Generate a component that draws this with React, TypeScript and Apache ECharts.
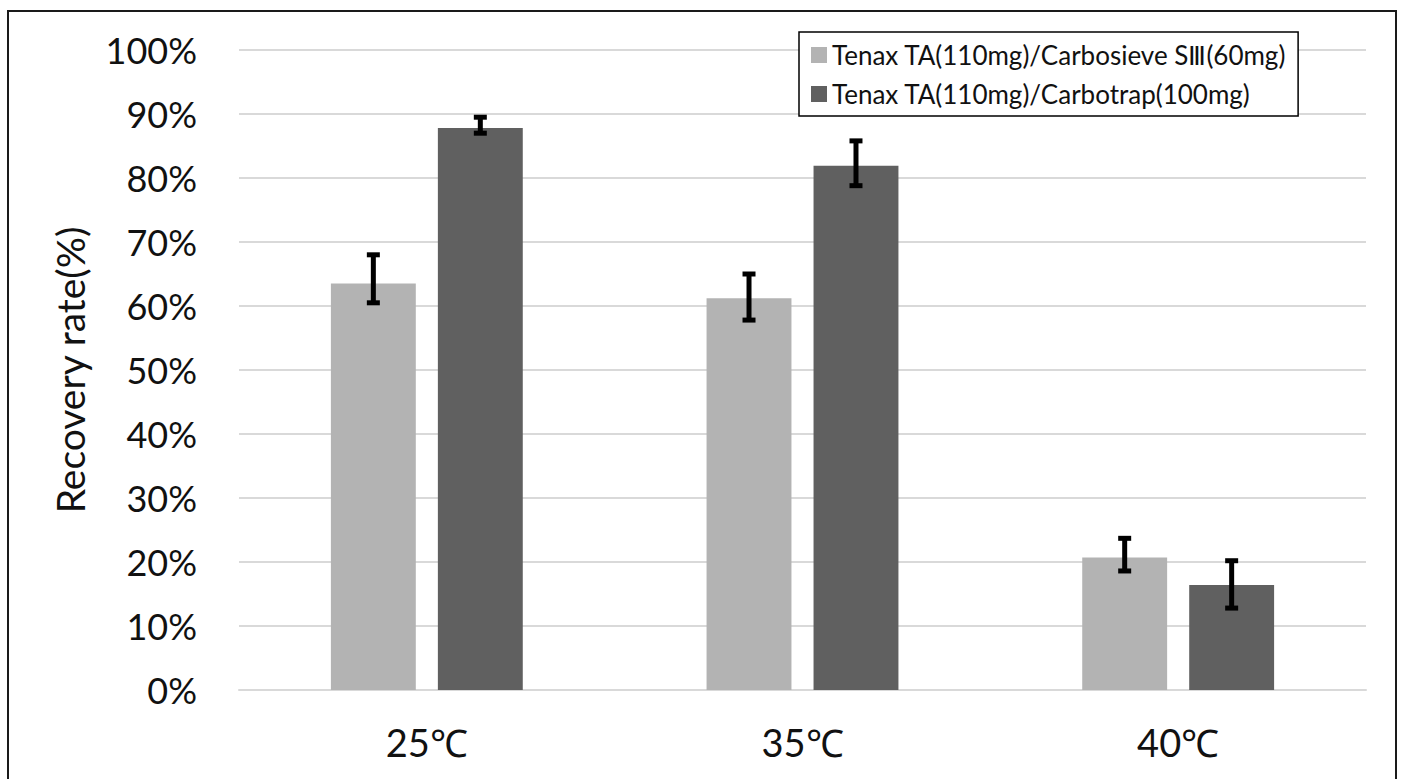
import React, { useEffect, useRef } from "react";
import * as echarts from "echarts";

const categories = ["25℃", "35℃", "40℃"];
const seriesNames = [
  "Tenax TA(110mg)/Carbosieve SⅢ(60mg)",
  "Tenax TA(110mg)/Carbotrap(100mg)",
];
const lightValues = [63.5, 61.2, 20.7];
const lightErrLow = [60.5, 57.8, 18.6];
const lightErrHigh = [68.0, 65.0, 23.7];
const darkValues = [87.8, 81.9, 16.4];
const darkErrLow = [87.0, 78.8, 12.8];
const darkErrHigh = [89.5, 85.8, 20.2];

const FONT = "Lato";
const LIGHT = "#b3b3b3";
const DARK = "#606060";
const BAR_W = 0.226;
const BAR_GAP = 0.26;

function errorSeries(low: number[], high: number[], side: number) {
  return {
    type: "custom",
    z: 10,
    silent: true,
    data: low.map((l, i) => [i, l, high[i]]),
    renderItem: (params: any, api: any) => {
      const idx = api.value(0);
      const lo = api.coord([idx, api.value(1)]);
      const hi = api.coord([idx, api.value(2)]);
      const bw = api.size([1, 0])[0];
      const off = (bw * BAR_W * (1 + BAR_GAP)) / 2;
      const x = lo[0] + side * off;
      const cap = 6.5;
      const style = { stroke: "#000", lineWidth: 5 };
      return {
        type: "group",
        children: [
          { type: "line", shape: { x1: x, y1: hi[1], x2: x, y2: lo[1] }, style },
          { type: "line", shape: { x1: x - cap, y1: hi[1], x2: x + cap, y2: hi[1] }, style },
          { type: "line", shape: { x1: x - cap, y1: lo[1], x2: x + cap, y2: lo[1] }, style },
        ],
      };
    },
  };
}

export default function App() {
  const ref = useRef<HTMLDivElement>(null);
  useEffect(() => {
    if (!ref.current) return;
    const chart = echarts.init(ref.current, null, { renderer: "svg" });
    chart.setOption({
      animation: false,
      backgroundColor: "#fff",
      textStyle: { fontFamily: FONT },
      graphic: [
        {
          type: "rect",
          shape: { x: 8, y: 11, width: 1388, height: 820 },
          style: { fill: "none", stroke: "#1a1a1a", lineWidth: 2 },
          z: 100,
        },
      ],
      legend: {
        orient: "vertical",
        left: 799,
        top: 32,
        data: seriesNames,
        icon: "rect",
        itemWidth: 16,
        itemHeight: 16,
        itemGap: 13,
        padding: [10, 12, 9, 12],
        borderColor: "#000",
        borderWidth: 1.5,
        backgroundColor: "#fff",
        textStyle: { fontFamily: FONT, fontSize: 26, color: "#111", padding: [0, 0, 0, 0] },
      },
      grid: { left: 239, right: 39, top: 50, bottom: 89 },
      xAxis: {
        type: "category",
        data: categories,
        axisLine: { lineStyle: { color: "#d9d9d9", width: 2 } },
        axisTick: { show: false },
        axisLabel: { fontFamily: FONT, fontSize: 38, color: "#111", margin: 33 },
      },
      yAxis: {
        type: "value",
        min: 0,
        max: 100,
        interval: 10,
        name: "Recovery rate(%)",
        nameLocation: "middle",
        nameGap: 150,
        nameTextStyle: { fontFamily: FONT, fontSize: 39, color: "#111" },
        axisLine: { show: false },
        axisTick: { show: false },
        splitLine: { lineStyle: { color: "#d9d9d9", width: 2 } },
        axisLabel: {
          fontFamily: FONT,
          fontSize: 36,
          color: "#111",
          margin: 42,
          formatter: "{value}%",
        },
      },
      series: [
        {
          name: seriesNames[0],
          type: "bar",
          data: lightValues,
          barWidth: BAR_W * 100 + "%",
          barGap: BAR_GAP * 100 + "%",
          itemStyle: { color: LIGHT },
        },
        {
          name: seriesNames[1],
          type: "bar",
          data: darkValues,
          barWidth: BAR_W * 100 + "%",
          barGap: BAR_GAP * 100 + "%",
          itemStyle: { color: DARK },
        },
        errorSeries(lightErrLow, lightErrHigh, -1),
        errorSeries(darkErrLow, darkErrHigh, 1),
      ],
    });
    return () => chart.dispose();
  }, []);
  return (
    <div
      ref={ref}
      style={{ position: "absolute", left: 0, top: 0, width: 1405, height: 779 }}
    />
  );
}
